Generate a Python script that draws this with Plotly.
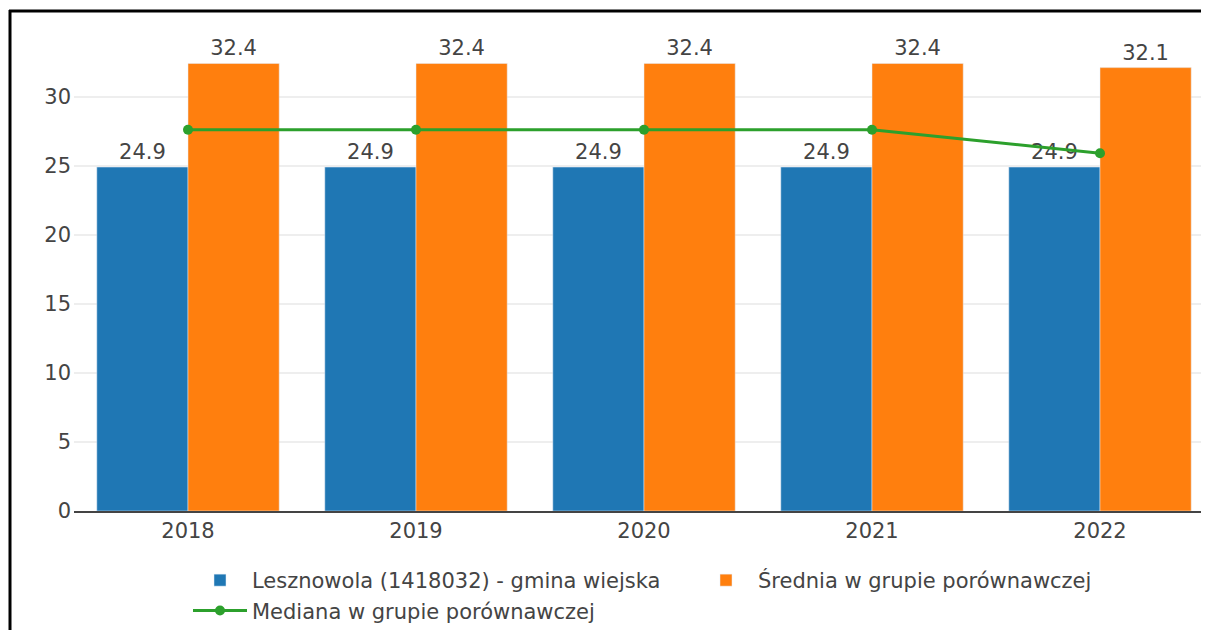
import plotly.graph_objects as go

years = ["2018", "2019", "2020", "2021", "2022"]
gmina = [24.9, 24.9, 24.9, 24.9, 24.9]
srednia = [32.4, 32.4, 32.4, 32.4, 32.1]
mediana = [27.6, 27.6, 27.6, 27.6, 25.9]

name_gmina = "Lesznowola (1418032) - gmina wiejska"
name_srednia = "Średnia w grupie porównawczej"
name_mediana = "Mediana w grupie porównawczej"

FONT = "DejaVu Sans"
TXT = "#444"
FS = 21

W, H = 1201, 622
L, R, T, B = 66, 1201, 32, 503  # plot area in figure pixels

fig = go.Figure()
fig.add_trace(go.Bar(x=years, y=gmina, name=name_gmina, marker_color="#1f77b4",
                     text=[f"{v:.1f}" for v in gmina], textposition="outside",
                     textfont=dict(color=TXT, size=FS), cliponaxis=False))
fig.add_trace(go.Bar(x=years, y=srednia, name=name_srednia, marker_color="#ff7f0e",
                     text=[f"{v:.1f}" for v in srednia], textposition="outside",
                     textfont=dict(color=TXT, size=FS), cliponaxis=False))
fig.add_trace(go.Scatter(x=years, y=mediana, name=name_mediana, mode="lines+markers",
                         line=dict(color="#2ca02c", width=3),
                         marker=dict(color="#2ca02c", size=10)))

def py(p):
    return (B - p) / (B - T)
def px(p):
    return (p - L) / (R - L)

# frame lines of the screenshot
fig.add_shape(type="line", xref="paper", yref="paper",
              x0=px(1), x1=px(W + 5), y0=py(3), y1=py(3),
              line=dict(color="#000", width=3))
fig.add_shape(type="line", xref="paper", yref="paper",
              x0=px(2), x1=px(2), y0=py(2), y1=py(H + 5),
              line=dict(color="#000", width=3))

fig.update_layout(
    width=W, height=H,
    margin=dict(l=L, r=W - R, t=T, b=H - B, autoexpand=False),
    paper_bgcolor="white", plot_bgcolor="white",
    font=dict(family=FONT, size=FS, color=TXT),
    barmode="group", bargap=0.2, bargroupgap=0,
    showlegend=True,
    legend=dict(orientation="h", x=px(180), xanchor="left", y=py(552), yanchor="top",
                font=dict(size=FS, color=TXT), itemwidth=54,
                entrywidth=437, entrywidthmode="pixels", tracegroupgap=0),
    xaxis=dict(type="category", range=[-0.5, -0.5 + (R - L) / 228], showline=True,
               linecolor="#444", linewidth=2, showgrid=False, ticks="",
               tickfont=dict(size=FS, color=TXT)),
    yaxis=dict(range=[0, 34.1], dtick=5, showgrid=True, gridcolor="#eee",
               gridwidth=2, zeroline=False, ticks="", ticklabelstandoff=2,
               tickfont=dict(size=FS, color=TXT)),
)

fig.write_html("out.html")
